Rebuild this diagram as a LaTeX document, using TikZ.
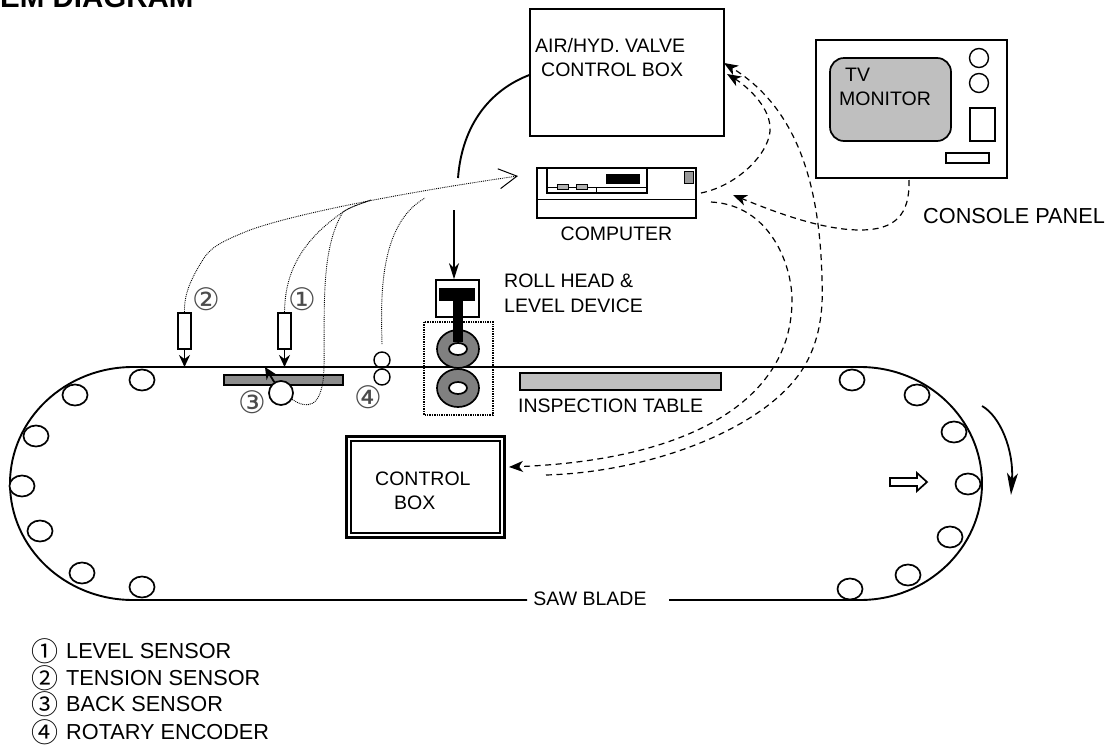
\documentclass[tikz,border=0pt]{standalone}
\usepackage{fontspec}
\setmainfont{Liberation Sans}
\newfontfamily\circfont{Noto Sans CJK JP}
\newfontfamily\markfont{DejaVu Sans}
\usepackage{tikz}
\usetikzlibrary{arrows.meta,shapes.geometric}
\tikzset{
    textlabel/.style={inner sep=0pt, anchor=west, font=\fontsize{19.5}{24}\selectfont},
    largelabel/.style={inner sep=0pt, anchor=west, font=\fontsize{21.7}{25}\selectfont},
    sensormark/.style={inner sep=0pt, text=black!70, font=\markfont\fontsize{31}{31}\selectfont},
    legendmark/.style={inner sep=0pt, font=\circfont\fontsize{27}{27}\selectfont},
    sensorbox/.style={draw, line width=1.8pt, fill=white, minimum width=13pt, minimum height=36pt, inner sep=0pt},
    roller/.style={draw, line width=1.7pt, fill=white, ellipse, minimum width=25pt, minimum height=21pt, inner sep=0pt},
    wheel/.style={draw, line width=1.7pt, fill=black!50, ellipse, minimum width=42pt, minimum height=38pt, inner sep=0pt},
    hub/.style={draw, line width=1.7pt, fill=white, ellipse, minimum width=18pt, minimum height=12pt, inner sep=0pt},
    dotline/.style={densely dotted, line width=0.9pt},
    dashline/.style={dash pattern=on 6pt off 4.5pt, line width=1.2pt},
    sensortip/.style={-{Stealth[length=12pt, width=11pt, inset=4pt]}, line width=1.8pt},
    dashtip/.style={-{Stealth[length=14pt, width=11pt, inset=4pt]}}
}
\begin{document}
\begin{tikzpicture}[x=1pt, y=-1pt, >=Stealth, line cap=butt, line join=miter]
    \useasboundingbox (0,0) rectangle (1117,745);

    % Heading runs off the top of the page
    \node[inner sep=0pt, anchor=base west, font=\bfseries\fontsize{29.5}{30}\selectfont] (heading) at (0,7) {EM DIAGRAM};

    % Saw blade, open where its label sits
    \draw[line width=1.9pt] (527,600) -- (133,600)
        arc[start angle=90, end angle=270, x radius=123, y radius=116.5]
        -- (860,367)
        arc[start angle=-90, end angle=90, x radius=122, y radius=116.5]
        -- (669,600);
    \coordinate (bladetop) at (0,367);
    \node[textlabel, anchor=center] (sawblade) at (590,599) {SAW BLADE};

    % Rollers along the blade
    \foreach \name/\px/\py in {a/142/380, b/75/395, c/36/436, d/22/486, e/40/531, f/82/573, g/142/587,
                               h/852/380, i/917/395, j/954/432, k/968/484, l/950/537, m/908/575, n/850/589}
        \node[roller] (roller\name) at (\px,\py) {};

    % Air/hyd. valve control box
    \node[draw, line width=1.2pt, minimum width=194pt, minimum height=127pt, inner sep=0pt] (valvebox) at (627,72.5) {};
    \node[textlabel] (valvetext) at (535,46) {AIR/HYD. VALVE};
    \node[textlabel] (valvetextb) at (541,70) {CONTROL BOX};

    % Console panel with TV monitor
    \node[draw, line width=1.7pt, minimum width=191pt, minimum height=138pt, inner sep=0pt] (monitor) at (911.5,109) {};
    \node[draw, line width=1.7pt, fill=black!25, rounded corners=14pt, minimum width=121pt, minimum height=83pt, inner sep=0pt] (screen) at (890.5,99.5) {};
    \node[textlabel] (tvtext) at (845,75) {TV};
    \node[textlabel] (monitortext) at (839,99) {MONITOR};
    \node[draw, line width=1.4pt, circle, minimum size=19pt, inner sep=0pt] (knoba) at (979,58) {};
    \node[draw, line width=1.4pt, circle, minimum size=19pt, inner sep=0pt] (knobb) at (979,83) {};
    \node[draw, line width=1.6pt, minimum width=25pt, minimum height=33pt, inner sep=0pt] (slot) at (982.5,124.5) {};
    \node[draw, line width=1.4pt, minimum width=43pt, minimum height=10pt, inner sep=0pt] (tray) at (967.5,158) {};
    \node[largelabel] (paneltext) at (923,216) {CONSOLE PANEL};

    % Computer
    \node[draw, line width=1.2pt, minimum width=159pt, minimum height=50pt, inner sep=0pt] (computer) at (616.5,193) {};
    \draw[line width=1pt] (computer.west |- 0,199) -- (computer.east |- 0,199);
    \draw[line width=1.3pt] (547,168) -- (547,193) -- (647,193) -- (647,168);
    \draw[line width=0.8pt] (547,187) -- (647,187) (596,187) -- (596,193);
    \fill (606,174) rectangle (640,184);
    \draw[line width=0.6pt, fill=black!30] (557,184) rectangle (568,189);
    \draw[line width=0.6pt, fill=black!30] (576,184) rectangle (587,189);
    \draw[line width=0.6pt, fill=black!40] (684,171) rectangle (693,183);
    \node[textlabel, anchor=center] (computertext) at (616.5,234) {COMPUTER};

    % Roll head and level device
    \node[draw, line width=1.7pt, minimum width=43pt, minimum height=37pt, inner sep=0pt] (rollhead) at (457.5,298.5) {};
    \draw[densely dotted, line width=1.4pt] (424,322) rectangle (493,415);
    \node[wheel] (wheeltop) at (458,349) {};
    \node[wheel] (wheelbot) at (458,388) {};
    \fill (439,288) rectangle (475,301);
    \fill (453,301) rectangle (463,342);
    \node[hub] (hubtop) at (458,349) {};
    \node[hub] (hubbot) at (458,388) {};
    \node[textlabel] (rolltext) at (504,281) {ROLL HEAD \&};
    \node[textlabel] (rolltextb) at (504,306) {LEVEL DEVICE};

    % Inspection table
    \node[draw, line width=1.7pt, fill=black!25, minimum width=201pt, minimum height=17pt, inner sep=0pt] (table) at (620.5,381.5) {};
    \node[textlabel] (tabletext) at (518,406) {INSPECTION TABLE};

    % Control box, double border
    \node[draw, line width=3.3pt, minimum width=158pt, minimum height=101pt, inner sep=0pt] (controlbox) at (425.5,487) {};
    \node[draw, line width=2.3pt, minimum width=149pt, minimum height=92pt, inner sep=0pt] (controlinner) at (425.5,487) {};
    \node[textlabel] (controltext) at (375,479) {CONTROL};
    \node[textlabel] (controltextb) at (394,503) {BOX};

    % Sensors on the blade
    \node[sensorbox] (tension) at (184.5,331) {};
    \node[sensorbox] (level) at (284.5,331) {};
    \draw[sensortip] (tension.south) -- (tension.south |- bladetop);
    \draw[sensortip] (level.south) -- (level.south |- bladetop);
    \node[draw, line width=1.7pt, fill=black!45, minimum width=119pt, minimum height=10pt, inner sep=0pt] (backplate) at (283.5,380) {};
    \node[draw, line width=1.7pt, fill=white, circle, minimum size=24pt, inner sep=0pt] (backsensor) at (281,393) {};
    \coordinate (backtip) at (265,367);
    \draw[sensortip] (backsensor) -- (backtip);
    \node[draw, line width=1.4pt, circle, minimum size=16pt, inner sep=0pt] (encodera) at (382,360) {};
    \node[draw, line width=1.4pt, circle, minimum size=16pt, inner sep=0pt] (encoderb) at (382,377) {};

    \node[sensormark] (marka) at (302,299) {①};
    \node[sensormark] (markb) at (206,299) {②};
    \node[sensormark] (markc) at (252,402) {③};
    \node[sensormark] (markd) at (368,397) {④};

    % Signal lines into the computer
    \coordinate (sigin) at (518,176);
    \coordinate (sigjoin) at (371,200);
    \coordinate (sigend) at (425,198);
    \coordinate (encoderout) at (382,344);
    \draw[dotline, -{Straight Barb[length=18pt, width=20pt, line width=1pt]}] (tension.north)
        .. controls (184,295) and (190,280) .. (204,258)
        .. controls (212,246) and (225,240) .. (250,230)
        .. controls (300,212) and (420,190) .. (sigin);
    \draw[dotline] (level.north) .. controls (285,280) and (295,245) .. (343,212)
        .. controls (350,207) and (360,204) .. (sigjoin);
    \draw[dotline] (backsensor.-30) .. controls (305,408) and (323,412) .. (324,367)
        .. controls (325,310) and (320,250) .. (343,212)
        .. controls (350,207) and (360,204) .. (sigjoin);
    \draw[dotline] (encoderout) .. controls (381,300) and (378,225) .. (sigend);

    % Valve box to roll head
    \coordinate (valveline) at (458,178);
    \coordinate (headin) at (454,210);
    \draw[line width=1.9pt] (valvebox.west) ++(0,2.5) .. controls (490,90) and (462,125) .. (valveline);
    \draw[-{Stealth[length=16pt, width=10pt, inset=5pt]}, line width=1.5pt] (headin) -- (headin |- rollhead.north);

    % Dashed links
    \coordinate (compa) at (701,193);
    \coordinate (compb) at (711,202);
    \coordinate (compin) at (733,195);
    \coordinate (valvea) at (727,74);
    \coordinate (valveb) at (724,63);
    \coordinate (ctrla) at (509,467);
    \coordinate (ctrlb) at (546,475);
    \coordinate (panelout) at (909,180);
    \draw[dashline, dashtip] (compa) .. controls (740,185) and (772,150) .. (770,127)
        .. controls (769,105) and (745,85) .. (valvea);
    \draw[dashline, dashtip] (compb) .. controls (770,205) and (792,265) .. (792,300)
        .. controls (792,400) and (690,460) .. (ctrla);
    \draw[dashline, dashtip] (ctrlb) .. controls (650,472) and (760,430) .. (800,373)
        .. controls (816,350) and (824,320) .. (822,280)
        .. controls (820,190) and (800,110) .. (valveb);
    \draw[dashline, dashtip] (panelout) .. controls (910,215) and (895,230) .. (860,230)
        .. controls (820,230) and (770,210) .. (compin);

    % Travel direction
    \draw[line width=1.7pt] (890,478) -- (917,478) -- (917,473) -- (927,482) -- (917,491) -- (917,486) -- (890,486) -- cycle;
    \coordinate (turnstart) at (982,406);
    \coordinate (turnend) at (1011,495);
    \draw[-{Stealth[length=22pt, width=11pt, inset=6pt]}, line width=1.8pt] (turnstart) .. controls (1000,416) and (1014,450) .. (turnend);

    % Legend
    \node[legendmark] (legenda) at (45,651) {①};
    \node[legendmark] (legendb) at (45,678) {②};
    \node[legendmark] (legendc) at (45,704) {③};
    \node[legendmark] (legendd) at (45,732) {④};
    \node[largelabel] (legendtexta) at (66,651) {LEVEL SENSOR};
    \node[largelabel] (legendtextb) at (66,678) {TENSION SENSOR};
    \node[largelabel] (legendtextc) at (66,704) {BACK SENSOR};
    \node[largelabel] (legendtextd) at (66,732) {ROTARY ENCODER};
\end{tikzpicture}
\end{document}
